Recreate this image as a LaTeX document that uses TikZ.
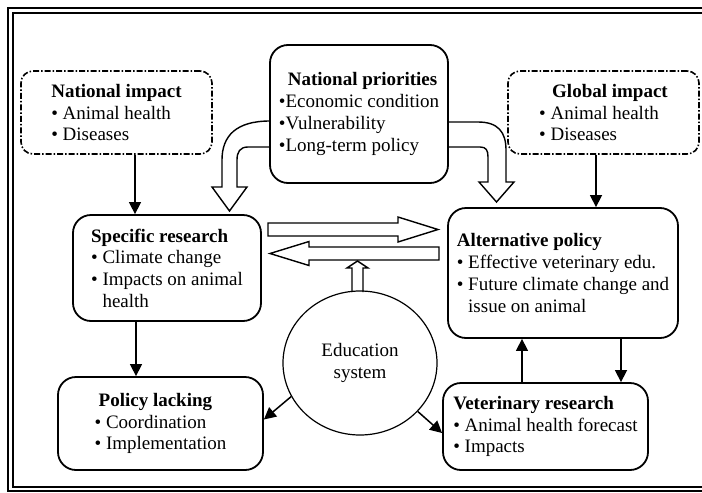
\documentclass[tikz,border=0pt]{standalone}
\usepackage{fontspec}
\setmainfont{Liberation Serif}
\usetikzlibrary{arrows.meta,shapes.geometric}

\tikzset{
  box/.style={draw, line width=1.8pt, rounded corners=18pt, align=left, inner sep=2pt},
  dashbox/.style={draw, line width=1.6pt, rounded corners=12pt, align=left, inner sep=2pt,
    dash pattern=on 6pt off 2pt on 1.5pt off 2pt},
  arr/.style={line width=1.5pt, -{Triangle[width=12pt,length=12pt]}},
  blockarrow/.style={draw, fill=white, line width=1.4pt, line join=miter}
}

\begin{document}
\begin{tikzpicture}[x=1pt, y=-1pt, font=\fontsize{19}{21.7}\selectfont]
\useasboundingbox (0,0) rectangle (702,493);
\draw[line width=2.5pt] (702,8) -- (8,8) -- (8,491) -- (702,491);
\draw[line width=1.4pt] (702,13) -- (13,13) -- (13,487) -- (702,487);

\draw[blockarrow] (270,121) .. controls (236,121) and (222,136) .. (222,160) -- (222,187)
  -- (212,187) -- (229.5,211) -- (247,187) -- (237,187) -- (237,160)
  .. controls (237,152) and (240,147) .. (248,147) -- (270,147);
\draw[blockarrow] (448,122) -- (478,122) .. controls (498,122) and (506,132) .. (506,150) -- (506,182)
  -- (514,182) -- (496.5,202) -- (479,182) -- (488,182) -- (488,157)
  .. controls (488,150) and (486,147) .. (480,147) -- (448,147);
\draw[blockarrow] (268,223) -- (398,223) -- (398,217) -- (438,229.5) -- (398,242) -- (398,236) -- (268,236) -- cycle;
\draw[blockarrow] (439,247) -- (309,247) -- (309,241.5) -- (270,253.5) -- (309,265.5) -- (309,260) -- (439,260) -- cycle;
\draw[blockarrow] (352,292) -- (352,268) -- (347,268) -- (357.5,261) -- (368,268) -- (363,268) -- (363,292);

\node[dashbox, minimum width=191pt, minimum height=83pt] (natimp) at (116.5,112.5)
  {\textbf{National impact}\\• Animal health\\• Diseases};
\node[box, minimum width=178pt, minimum height=138pt] (prio) at (359,114)
  {\hspace*{9pt}\textbf{National priorities}\\•Economic condition\\•Vulnerability\\•Long-term policy};
\node[dashbox, minimum width=191pt, minimum height=83pt] (globimp) at (603.5,112.5)
  {\hspace*{13pt}\textbf{Global impact}\\• Animal health\\• Diseases};
\node[box, minimum width=188pt, minimum height=106pt] (spec) at (167,268)
  {\textbf{Specific research}\\• Climate change\\• Impacts on animal\\\phantom{• }health};
\node[box, minimum width=230pt, minimum height=130pt] (alt) at (563,273)
  {\textbf{Alternative policy}\\• Effective veterinary edu.\\• Future climate change and\\\phantom{• }issue on animal};
\node[draw, ellipse, line width=1.2pt, minimum width=154pt, minimum height=144pt, align=center, inner sep=0pt] (edu) at (360,363)
  {Education\\system};
\node[box, minimum width=205pt, minimum height=93pt] (lack) at (160.5,423.5)
  {\hspace*{4pt}\textbf{Policy lacking}\\• Coordination\\• Implementation};
\node[box, minimum width=205pt, minimum height=87pt] (vet) at (545.5,426.5)
  {\textbf{Veterinary research}\\• Animal health forecast\\• Impacts};

\draw[arr] ([xshift=18.5pt]natimp.south) -- ([xshift=18.5pt]natimp.south |- spec.north);
\draw[arr] ([xshift=-7.5pt]globimp.south) -- ([xshift=-7.5pt]globimp.south |- alt.north);
\draw[arr] ([xshift=-31pt]spec.south) -- ([xshift=-31pt]spec.south |- lack.north);
\draw[arr] ([xshift=58pt]alt.south) -- ([xshift=58pt]alt.south |- vet.north);
\draw[arr] ([xshift=-23.5pt]vet.north) -- ([xshift=-23.5pt]vet.north |- alt.south);
\draw[arr] (edu.206) -- ([yshift=4pt]lack.east);
\draw[arr] (edu.320) -- ([yshift=-6.5pt]vet.west);
\end{tikzpicture}
\end{document}
